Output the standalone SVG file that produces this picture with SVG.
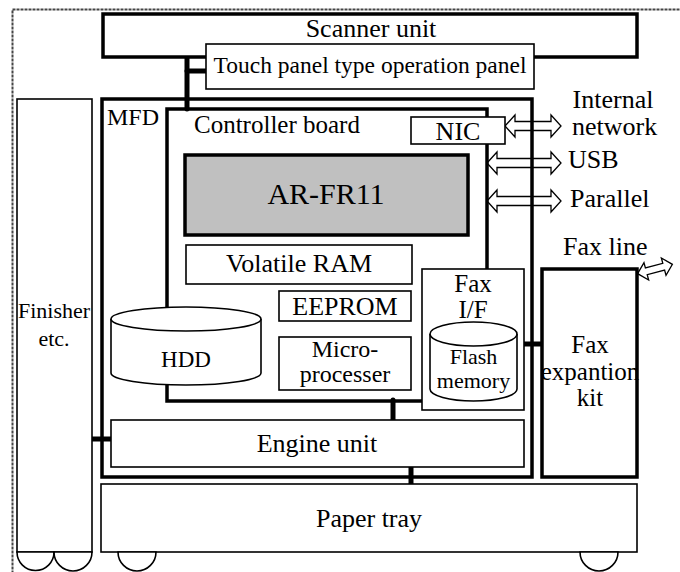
<svg xmlns="http://www.w3.org/2000/svg" width="680" height="572" viewBox="0 0 680 572" font-family="Liberation Serif, Times New Roman, serif">
<style>
text{font-family:"Liberation Serif","Times New Roman","DejaVu Serif",serif;font-size:26px;fill:#000}
.m{text-anchor:middle}
.thick{fill:none;stroke:#000;stroke-width:3.5}
.thickw{fill:#fff;stroke:#000;stroke-width:3.5}
.thin{fill:#fff;stroke:#000;stroke-width:1.6}
.conn{stroke:#000;stroke-width:5;stroke-linecap:round;fill:none}
.arr{fill:#fff;stroke:#000;stroke-width:1.3;stroke-linejoin:miter}
.wheel{fill:#fff;stroke:#000;stroke-width:1.6}
</style>
<rect x="12.5" y="9.5" width="720" height="620" fill="none" stroke="#444" stroke-width="2" stroke-dasharray="3 1"/>
<g id="connectors">
<path class="arr" d="M505,126 L515,115 L515,121.5 L551,121.5 L551,115 L561,126 L551,137 L551,130.5 L515,130.5 L515,137 Z"/>
<path class="arr" d="M487,163 L497,152 L497,158.5 L551,158.5 L551,152 L561,163 L551,174 L551,167.5 L497,167.5 L497,174 Z"/>
<path class="arr" d="M487,201 L497,190 L497,196.5 L551,196.5 L551,190 L561,201 L551,212 L551,205.5 L497,205.5 L497,212 Z"/>
<path class="arr" transform="translate(655,269) rotate(-15)" d="M-18,0 L-9,-9 L-9,-3.5 L9,-3.5 L9,-9 L18,0 L9,9 L9,3.5 L-9,3.5 L-9,9 Z"/>
<line class="conn" x1="187" y1="56" x2="187" y2="109"/>
<line class="conn" x1="187" y1="71" x2="206" y2="71"/>
<line class="conn" x1="91" y1="439" x2="112" y2="439"/>
<line class="conn" x1="393" y1="400" x2="393" y2="421"/>
<line class="conn" x1="411" y1="466" x2="411" y2="485"/>
<line class="conn" x1="523" y1="344" x2="543" y2="344"/>
</g>
<g id="mfd">
<rect class="thick" x="102" y="99" width="430" height="378"/>
<text x="107" y="125" style="font-size:24px">MFD</text>
</g>
<g id="controller">
<rect class="thick" x="167" y="109" width="320" height="292"/>
<text x="194" y="133" style="font-size:25px">Controller board</text>
</g>
<g id="scanner">
<rect class="thickw" x="103" y="14" width="534" height="43"/>
<text class="m" x="371" y="37">Scanner unit</text>
</g>
<g id="touchpanel">
<rect class="thin" x="206" y="44" width="328" height="45"/>
<text class="m" x="370" y="73" style="font-size:23.5px">Touch panel type operation panel</text>
</g>
<g id="finisher">
<rect class="thin" x="17" y="99" width="75" height="453"/>
<path class="wheel" d="M17,552 A18.5,18.5 0 0 0 54,552 Z"/>
<path class="wheel" d="M54,552 A19,19 0 0 0 92,552 Z"/>
<text class="m" x="54" y="318" style="font-size:22px">Finisher</text>
<text class="m" x="54" y="346" style="font-size:22px">etc.</text>
</g>
<g id="nic">
<rect class="thin" x="411" y="117" width="94" height="27"/>
<text class="m" x="458" y="140">NIC</text>
</g>
<text class="m" x="613" y="108">Internal</text>
<text x="572" y="135">network</text>
<text x="568" y="168">USB</text>
<text x="570" y="207">Parallel</text>
<g id="arfr11">
<rect x="185" y="155" width="283" height="80" fill="#c0c0c0" stroke="#000" stroke-width="3.5"/>
<text class="m" x="326" y="204" style="font-size:30px">AR-FR11</text>
</g>
<g id="ram">
<rect class="thin" x="186" y="245" width="226" height="39"/>
<text class="m" x="299" y="272">Volatile RAM</text>
</g>
<g id="eeprom">
<rect class="thin" x="279" y="291" width="132" height="30"/>
<text class="m" x="345" y="315">EEPROM</text>
</g>
<g id="micro">
<rect class="thin" x="279" y="337" width="132" height="53"/>
<text class="m" x="345" y="357" style="font-size:24px">Micro-</text>
<text class="m" x="345" y="382" style="font-size:24px">processer</text>
</g>
<g id="hdd">
<path class="thin" d="M111,319 A75,12 0 0 1 261,319 L261,373 A75,12 0 0 1 111,373 Z"/>
<path class="thin" fill="none" d="M111,319 A75,12 0 0 0 261,319"/>
<text class="m" x="186" y="367" style="font-size:23px">HDD</text>
</g>
<g id="faxif">
<rect class="thin" x="422" y="269" width="102" height="141"/>
<text class="m" x="473" y="292" style="font-size:25px">Fax</text>
<text class="m" x="473" y="318" style="font-size:25px">I/F</text>
</g>
<g id="flash">
<path class="thin" d="M430,334 A43.5,12 0 0 1 517,334 L517,389 A43.5,12 0 0 1 430,389 Z"/>
<path class="thin" fill="none" d="M430,334 A43.5,12 0 0 0 517,334"/>
<text class="m" x="473.5" y="364" style="font-size:22px">Flash</text>
<text class="m" x="473.5" y="388" style="font-size:22px">memory</text>
</g>
<g id="faxkit">
<rect class="thickw" x="542" y="269" width="95" height="208"/>
<text class="m" x="590" y="353" style="font-size:25px">Fax</text>
<text class="m" x="590" y="380" style="font-size:25px">expantion</text>
<text class="m" x="590" y="406" style="font-size:25px">kit</text>
</g>
<text x="563" y="255">Fax line</text>
<g id="engine">
<rect class="thin" x="111" y="420" width="413" height="47"/>
<text class="m" x="317" y="452">Engine unit</text>
</g>
<g id="papertray">
<rect class="thin" x="101" y="484" width="536" height="68"/>
<path class="wheel" d="M118,552 A19,19 0 0 0 156,552 Z"/>
<path class="wheel" d="M580,552 A19,19 0 0 0 618,552 Z"/>
<text class="m" x="369" y="527">Paper tray</text>
</g>
</svg>
